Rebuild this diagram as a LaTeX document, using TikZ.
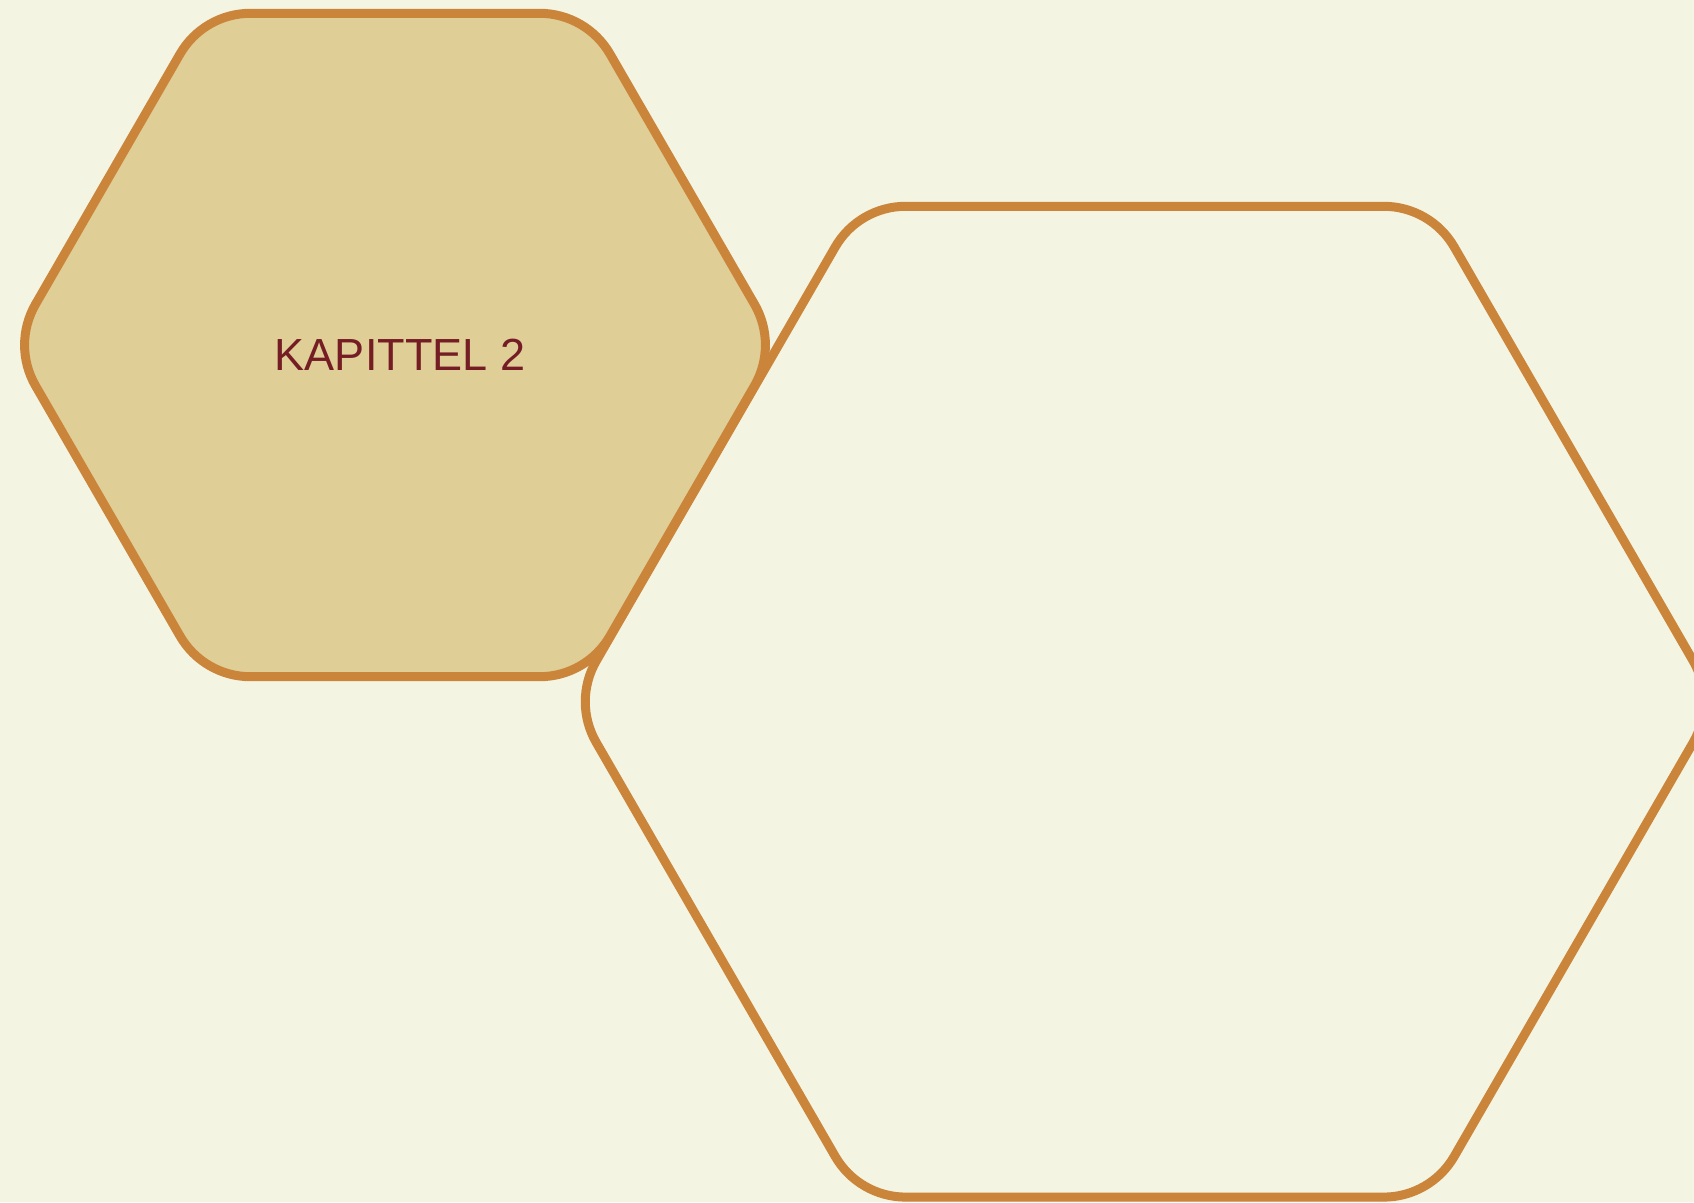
\documentclass[tikz,border=0pt]{standalone}
\usepackage{fontspec}
\setmainfont{Liberation Sans}
\usetikzlibrary{calc}
\definecolor{bgcol}{HTML}{F3F4E2}
\definecolor{hexfill}{HTML}{E0CE97}
\definecolor{hexstroke}{HTML}{CB853B}
\definecolor{txtcol}{HTML}{751D25}
\tikzset{
  hexline/.style={draw=hexstroke, line width=9pt, line join=round},
  hexlabel/.style={text=txtcol, font=\fontsize{45}{54}\selectfont, inner sep=0pt}
}
% rounded corner as a circular arc (tangent length 47pt, radius ~81pt)
\newcommand{\hxc}[3]{-- ($(#2)!47pt!(#1)$) .. controls ($(#2)!17.9pt!(#1)$) and ($(#2)!17.9pt!(#3)$) .. ($(#2)!47pt!(#3)$)}
\begin{document}
\begin{tikzpicture}[x=1pt,y=-1pt]
\useasboundingbox (0,0) rectangle (1694,1202);
\clip (0,0) rectangle (1694,1202);
\fill[bgcol] (0,0) rectangle (1694,1202);
% small hexagon: centre (395,345), R=383
\coordinate (a1) at (586.5,13.3);
\coordinate (a2) at (778,345);
\coordinate (a3) at (586.5,676.7);
\coordinate (a4) at (203.5,676.7);
\coordinate (a5) at (12,345);
\coordinate (a6) at (203.5,13.3);
\path[hexline, fill=hexfill] ($(a6)!0.5!(a1)$)
  \hxc{a6}{a1}{a2} \hxc{a1}{a2}{a3} \hxc{a2}{a3}{a4}
  \hxc{a3}{a4}{a5} \hxc{a4}{a5}{a6} \hxc{a5}{a6}{a1} -- cycle;
% large hexagon: centre (1144.7,701.7), R=572
\coordinate (b1) at (1430.7,206.3);
\coordinate (b2) at (1716.7,701.7);
\coordinate (b3) at (1430.7,1197.1);
\coordinate (b4) at (858.7,1197.1);
\coordinate (b5) at (572.7,701.7);
\coordinate (b6) at (858.7,206.3);
\path[hexline] ($(b6)!0.5!(b1)$)
  \hxc{b6}{b1}{b2} \hxc{b1}{b2}{b3} \hxc{b2}{b3}{b4}
  \hxc{b3}{b4}{b5} \hxc{b4}{b5}{b6} \hxc{b5}{b6}{b1} -- cycle;
\node[hexlabel] (kap) at (400,355) {KAPITTEL 2};
\end{tikzpicture}
\end{document}
